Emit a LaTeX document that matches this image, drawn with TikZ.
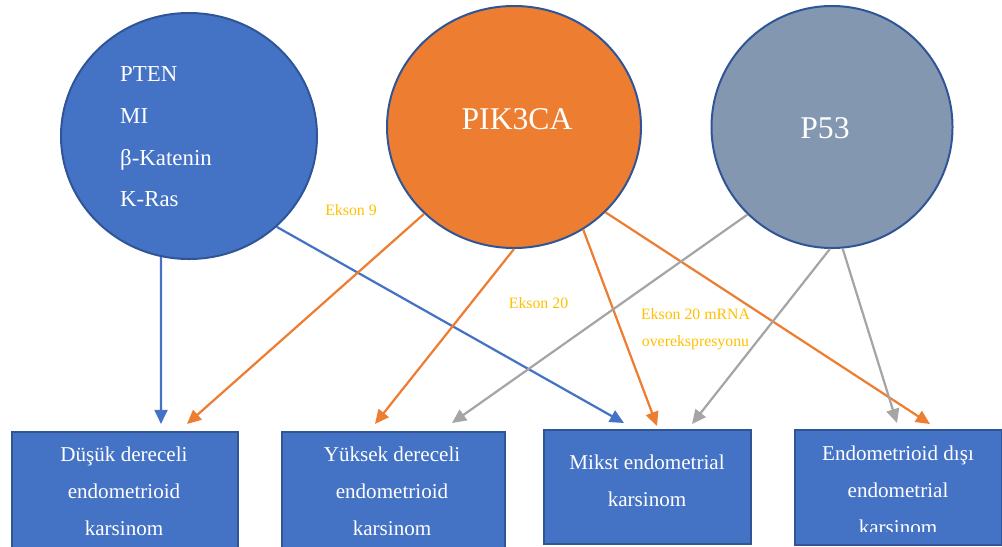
\documentclass[tikz,border=0pt]{standalone}
\usepackage{fontspec}
\setmainfont{Liberation Serif}
\usetikzlibrary{shapes.geometric,arrows.meta,calc}

\definecolor{blueF}{HTML}{4472C4}
\definecolor{orangeF}{HTML}{ED7D31}
\definecolor{greyF}{HTML}{8497B0}
\definecolor{greyL}{HTML}{A5A5A5}
\definecolor{edge}{HTML}{2F5597}
\definecolor{gold}{HTML}{FFC000}

\begin{document}
\begin{tikzpicture}[x=0.03cm, y=-0.03cm,
  circ/.style={ellipse, draw=edge, line width=1.7pt, inner sep=0},
  box/.style={rectangle, draw=edge, fill=blueF, line width=1.7pt, anchor=north west, inner sep=0},
  txt/.style={text=white, align=center, inner sep=0, font=\fontsize{18}{31.5}\selectfont},
  lab/.style={text=gold, align=center, inner sep=0, font=\fontsize{13.5}{23}\selectfont},
  arr/.style={line width=1.9pt, -{Triangle[length=12pt,width=11pt]}}]

\useasboundingbox (0,0) rectangle (1002,546);

% circles
\node[circ, fill=blueF, minimum width=7.68cm, minimum height=7.38cm] (L) at (189,136) {};
\node[circ, fill=orangeF, minimum width=7.62cm, minimum height=7.26cm] (C) at (514,127) {};
\node[circ, fill=greyF, minimum width=7.23cm, minimum height=7.26cm] (R) at (832,127) {};

\node[text=white, align=left, inner sep=0, anchor=west, font=\fontsize{19.5}{35.5}\selectfont] (Lt) at (120,137) {PTEN\\MI\\β-Katenin\\K-Ras};
\node[text=white, inner sep=0, font=\fontsize{27}{27}\selectfont] (Ct) at (517,119) {PIK3CA};
\node[text=white, inner sep=0, font=\fontsize{27}{27}\selectfont] (Rt) at (825,128) {P53};

% boxes
\node[box, minimum width=6.78cm, minimum height=3.6cm] (K1) at (11,431) {};
\node[box, minimum width=6.69cm, minimum height=3.6cm] (K2) at (281,431) {};
\node[box, minimum width=6.21cm, minimum height=3.42cm] (K3) at (543,429) {};
\node[box, minimum width=6.21cm, minimum height=3.45cm] (K4) at (794,429) {};

\node[txt] (K1t) at (124,491) {Düşük dereceli\\endometrioid\\karsinom};
\node[txt] (K2t) at (392,491) {Yüksek dereceli\\endometrioid\\karsinom};
\node[txt] (K3t) at (647,481) {Mikst endometrial\\karsinom};
\begin{scope}
\clip (794,429) rectangle (1001,531.5);
\node[txt] (K4t) at (898,490) {Endometrioid dışı\\endometrial\\karsinom};
\end{scope}

% arrow ends
\coordinate (K1a) at ($(K1.north west)+(150,-7)$);
\coordinate (K1b) at ($(K1.north west)+(176,-7)$);
\coordinate (K2a) at ($(K2.north west)+(94,-7)$);
\coordinate (K2b) at ($(K2.north west)+(171,-8)$);
\coordinate (K3a) at ($(K3.north west)+(81,-6)$);
\coordinate (K3b) at ($(K3.north west)+(114,-3)$);
\coordinate (K3c) at ($(K3.north west)+(149,-5)$);
\coordinate (K4a) at ($(K4.north west)+(103,-6)$);
\coordinate (K4b) at ($(K4.north west)+(136,-5)$);

\draw[arr, blueF] (L.257) -- (K1a);
\draw[arr, blueF] (L.314) -- (K3a);

\draw[arr, orangeF] (C.224) -- (K1b);
\draw[arr, orangeF] (C.270) -- (K2a);
\draw[arr, orangeF] (C.304) -- (K3b);
\draw[arr, orangeF] (C.317) -- (K4b);

\draw[arr, greyL] (R.226) -- (K2b);
\draw[arr, greyL] (R.269) -- (K3c);
\draw[arr, greyL] (R.275) -- (K4a);

% labels
\node[lab] (E9) at (351,210.5) {Ekson 9};
\node[lab] (E20) at (538.5,303) {Ekson 20};
\node[lab] (E20m) at (695.5,329.5) {Ekson 20 mRNA\\overekspresyonu};

\end{tikzpicture}
\end{document}
